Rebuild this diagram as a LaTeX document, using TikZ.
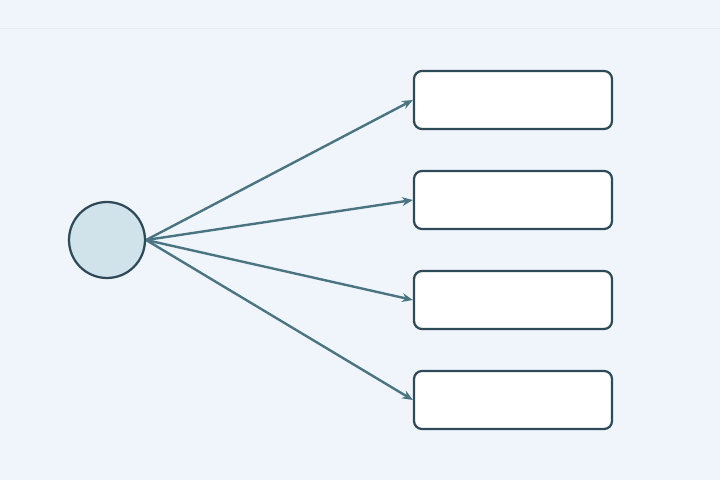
\documentclass[tikz,border=0pt]{standalone}
\usetikzlibrary{arrows.meta}
\definecolor{bgcol}{HTML}{EFF5FA}
\definecolor{edgecol}{HTML}{2E4A58}
\definecolor{srcfill}{HTML}{D0E3EB}
\definecolor{arrcol}{HTML}{4A7482}
\definecolor{faint}{HTML}{E3EBF1}
\tikzset{
  srcnode/.style={circle, draw=edgecol, fill=srcfill, line width=1.6pt, minimum size=1.9cm, inner sep=0pt},
  boxnode/.style={rectangle, rounded corners=0.2cm, draw=edgecol, fill=white, line width=1.6pt, minimum width=4.95cm, minimum height=1.45cm},
  link/.style={draw=arrcol, line width=1.7pt, -{Stealth[length=0.27cm,width=0.22cm]}}
}
\begin{document}
\begin{tikzpicture}
        \fill[bgcol] (0,0) rectangle (18,12);
        \useasboundingbox (0,0) rectangle (18,12);
        \draw[faint, line width=0.6pt] (0,11.3) -- (18,11.3);
        \node[srcnode] (src) at (2.675,6) {};
        \node[boxnode] (t1) at (12.825,9.5) {};
        \node[boxnode] (t2) at (12.825,7) {};
        \node[boxnode] (t3) at (12.825,4.5) {};
        \node[boxnode] (t4) at (12.825,2) {};
        \draw[link] (src.east) -- (t1.west);
        \draw[link] (src.east) -- (t2.west);
        \draw[link] (src.east) -- (t3.west);
        \draw[link] (src.east) -- (t4.west);
      \end{tikzpicture}
\end{document}
